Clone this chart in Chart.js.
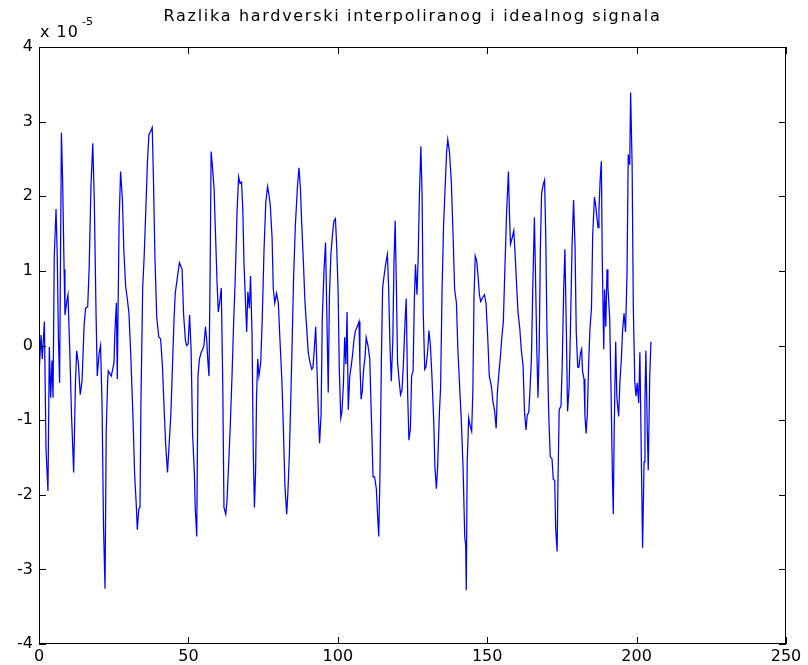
<!DOCTYPE html>
<html>
<head>
<meta charset="utf-8">
<title>Razlika hardverski interpoliranog i idealnog signala</title>
<script src="https://cdn.jsdelivr.net/npm/chart.js@4.4.1/dist/chart.umd.min.js"></script>
<style>
  html, body { margin: 0; padding: 0; background: #fff; }
  canvas { display: block; }
</style>
</head>
<body>
<canvas id="signal-chart" width="808" height="665"></canvas>
<script>
// Naslov i oznake osi
const chartTitle = "Razlika hardverski interpoliranog i idealnog signala";
const yExponent = "-5";
const xTickValues = [0, 50, 100, 150, 200, 250];
const yTickValues = [-4, -3, -2, -1, 0, 1, 2, 3, 4];

// Uzorci ocitani sa slike (x os), vrijednosti u jedinicama 1e-5
const sampleX = [
  0.1, 0.67, 1.1, 1.8, 2.35, 3.0, 3.46, 3.9, 4.35, 4.7, 5.1, 5.7, 6.1, 6.5, 6.9, 7.5, 7.9, 8.4, 8.7, 9.3,
  9.7, 10.3, 10.9, 11.6, 12.2, 12.6, 13.2, 13.8, 14.4, 15.1, 15.6, 16.3, 16.8, 17.4, 18.0, 18.5, 19.1, 19.5,
  20.1, 20.6, 21.1, 21.6, 22.1, 22.5, 23.0,
  23.2, 24.2, 25.1, 25.4, 25.9, 26.2, 26.8, 27.3, 27.9, 28.4, 29.0, 29.6, 30.1, 30.7, 31.5, 32.0, 32.6, 32.9,
  33.4, 33.8, 34.1, 34.7, 35.2, 35.7, 36.3, 36.8, 37.4, 37.9, 38.3, 38.8, 39.4, 40.1, 40.7, 41.3, 41.8, 42.4,
  43.0, 43.5, 44.1, 44.6, 45.2, 45.6,
  46.5, 47.0, 47.9, 48.4, 49.0, 49.4, 49.9, 50.4, 50.9, 51.4, 52.0, 52.3, 52.8, 53.2, 53.7, 54.3, 54.8, 55.2,
  55.7, 56.1, 56.5, 56.9, 57.3, 57.6, 58.0, 58.6, 59.0, 59.6, 60.0, 60.5, 61.0, 61.5, 61.9, 62.5, 62.9, 63.5,
  64.0, 64.6, 65.1, 65.7, 66.3, 66.8,
  67.3, 67.8, 68.2, 68.6, 69.1, 69.5, 69.9, 70.4, 70.8, 71.3, 71.7, 72.1, 72.5, 72.8, 73.2, 73.6, 74.2, 74.7,
  75.3, 75.9, 76.5, 77.0, 77.4, 78.0, 78.4, 78.9, 79.5, 80.1, 80.6, 81.3, 81.8, 82.3, 82.9, 83.3, 83.8, 84.2,
  84.7, 85.2, 85.8, 86.5, 87.0, 87.5, 87.9, 88.5, 89.0, 89.6, 90.1, 90.7,
  91.3, 91.7, 92.1, 92.6, 93.0, 93.5, 93.9, 94.4, 94.8, 95.4, 95.9, 96.8, 97.2, 97.7, 98.3, 98.7, 99.2, 99.6,
  100.1, 100.5, 101.0, 101.4, 101.9, 102.3, 102.7, 103.1, 103.5, 104.0, 104.5, 104.9, 105.4, 105.9, 106.5,
  107.1, 107.4, 107.8, 108.2, 108.6, 109.1, 109.5, 110.1, 110.7, 111.2, 111.8, 112.3, 112.9, 113.3, 113.7,
  114.1, 114.6, 115.0, 115.6, 116.1, 116.6, 117.0, 117.5, 117.9, 118.4, 118.8, 119.2, 119.6, 120.0, 120.6,
  121.0, 121.5, 121.9, 122.5, 122.9, 123.4, 123.8, 124.3, 124.7, 125.2, 125.6, 126.0, 126.5, 126.9, 127.3,
  127.8, 128.2, 128.6, 129.1, 129.5, 130.1, 130.5, 131.0, 131.5, 132.1, 132.5, 133.0, 133.4, 134.0, 134.4,
  134.9, 135.4, 136.0, 136.4, 136.8,
  137.4, 138.0, 138.6, 139.1, 139.7, 140.2, 140.8, 141.3, 141.9, 142.5, 142.8, 143.0, 143.3, 143.8, 144.2,
  144.8, 145.2, 145.6, 146.0, 146.5, 146.9, 147.4, 147.8, 148.3, 148.7, 149.1, 149.6, 150.2, 150.7, 151.4,
  151.9, 152.5, 153.0, 153.4, 153.9, 154.5, 154.9, 155.4, 155.9, 156.5, 157.1, 157.5, 157.8, 158.4, 158.9,
  159.4, 159.9, 160.3, 160.9, 161.4, 162.0, 162.5, 163.0, 163.4, 163.9, 164.3, 164.8, 165.3, 165.8, 166.1,
  166.6, 167.0, 167.4, 167.8, 168.2, 168.7, 169.2, 169.6, 170.0, 170.6, 171.1, 171.7, 172.1, 172.6, 172.9,
  173.4, 173.7, 174.1, 174.7, 175.1, 175.6, 176.0, 176.5, 176.9, 177.4, 177.8, 178.4, 178.9, 179.4, 179.8,
  180.3, 180.7, 181.2, 181.6, 181.9,
  182.4, 182.7, 183.1, 183.5, 184.0, 184.4, 184.9, 185.3, 185.9, 186.3, 186.6, 187.1, 187.4, 187.8, 188.2,
  188.5, 189.0, 189.3, 189.7, 190.1, 190.4, 191.0, 191.4, 191.9, 192.2, 192.5, 193.0, 193.4, 194.0, 194.4,
  194.9, 195.3, 195.8, 196.3, 196.8, 197.2, 197.7, 198.0, 198.5, 198.9, 199.4, 199.8, 200.2, 200.7, 201.1,
  201.6, 202.0, 202.5, 202.8, 203.1, 203.6, 203.9, 204.4, 204.8
];

const diffValues = [
  -0.32, 0.14, -0.18, 0.32, -1.40, -1.95, -0.02, -0.70, -0.20, -0.70, 1.18, 1.83, 1.22, 0.09, -0.50, 2.85, 2.22, 1.02, 0.41, 0.59,
  0.68, -0.07, -0.95, -1.70, -0.50, -0.07, -0.25, -0.66, -0.48, 0.27, 0.50, 0.52, 1.06, 2.15, 2.71, 1.95, 0.41, -0.41,
  -0.11, 0.00, -0.79, -2.44, -3.26, -1.15, -0.45,
  -0.34, -0.41, -0.23, 0.18, 0.57, -0.45, 1.63, 2.33, 1.97, 1.27, 0.79, 0.61, 0.43, -0.11, -1.02, -1.72, -2.17, -2.47,
  -2.19, -2.17, -0.81, 0.77, 1.20, 1.76, 2.47, 2.83, 2.87, 2.92, 2.24, 1.18, 0.38, 0.11, 0.09, -0.27, -0.77, -1.33,
  -1.70, -1.36, -0.95, -0.36, 0.36, 0.70,
  0.97, 1.11, 1.02, 0.41, 0.07, 0.00, 0.02, 0.41, -0.05, -1.18, -1.72, -2.19, -2.56, -0.41, -0.18, -0.09, -0.05, 0.00,
  0.25, 0.09, -0.20, -0.41, 1.09, 2.60, 2.42, 2.10, 1.58, 0.84, 0.45, 0.59, 0.77, -0.52, -2.17, -2.26, -2.10, -1.56,
  -1.09, -0.41, 0.25, 0.93, 1.81, 2.26,
  2.17, 2.19, 1.83, 1.11, 0.59, 0.18, 0.72, 0.50, 0.93, 0.14, -1.40, -2.17, -1.67, -0.70, -0.18, -0.41, -0.23, 0.34,
  1.27, 1.92, 2.13, 2.01, 1.88, 1.45, 0.77, 0.57, 0.70, 0.57, 0.11, -0.48, -1.13, -1.88, -2.26, -1.97, -1.45, -0.81,
  0.00, 0.90, 1.61, 2.13, 2.38, 2.10, 1.65, 1.11, 0.59, 0.23, -0.09, -0.23,
  -0.32, -0.29, -0.07, 0.25, -0.27, -0.90, -1.31, -0.93, 0.36, 1.02, 1.38, -0.63, 0.66, 1.24, 1.52, 1.67, 1.70, 1.36,
  0.75, -0.32, -0.97, -0.88, -0.50, 0.11, -0.25, 0.45, -0.86, -0.41, -0.27, -0.14, 0.07, 0.20, 0.25,
  0.32, -0.23, -0.72, -0.61, -0.34, -0.16, 0.11, 0.00, -0.18, -0.90, -1.76, -1.76, -1.92, -2.26, -2.56,
  -1.76, -0.16, 0.77, 0.97, 1.11, 1.22, 0.79, -0.05, -0.48, 0.05, 1.11, 1.67, 0.81, -0.23, -0.50,
  -0.66, -0.59, -0.29, 0.32, 0.63, -0.68, -1.27, -1.11, -0.41, -0.34, 0.59, 1.09, 0.68, 1.18, 1.99,
  2.67, 2.04, 0.43, -0.32, -0.29, -0.07, 0.20, 0.00, -0.41, -1.00, -1.63, -1.92, -1.63, -0.90, -0.57,
  0.75, 1.61, 2.19, 2.58, 2.76,
  2.58, 2.19, 1.45, 0.75, 0.57, -0.07, -0.57, -0.97, -1.61, -2.58, -2.67, -3.28, -1.58, -0.97, -1.06,
  -1.15, -0.61, 0.68, 1.20, 1.13, 0.95, 0.68, 0.59, 0.63, 0.66, 0.68, 0.57, 0.09, -0.41, -0.54,
  -0.75, -0.88, -1.11, -0.63, -0.38, -0.11, 0.11, 0.32, 1.00, 1.79, 2.33, 1.70, 1.36, 1.45, 1.54,
  1.18, 0.77, 0.45, 0.23, -0.05, -0.27, -0.90, -1.13, -0.93, -0.90, -0.61, -0.18, 0.86, 1.72, 1.09,
  -0.05, -0.70, -0.05, 1.31, 2.04, 2.15, 2.22, 1.47, 0.20, -0.93, -1.49, -1.52, -1.79, -1.81, -2.44,
  -2.76, -1.79, -0.86, -0.81, -0.27, 0.75, 1.29, 0.18, -0.88, -0.57, 0.11, 1.33, 1.95, 1.33, 0.18,
  -0.29, -0.29, -0.11, -0.05, -0.34,
  -0.45, -0.93, -1.18, -0.93, -0.18, 0.23, 0.50, 1.47, 1.99, 1.88, 1.76, 1.58, 1.81, 2.22, 2.47,
  1.20, -0.05, 0.75, 0.25, 1.02, 0.79, 0.36, -0.50, -1.74, -2.26, -1.13, 0.05, -0.70, -0.95, -0.50,
  -0.18, 0.20, 0.43, 0.18, 0.97, 2.56, 2.42, 3.39, 2.42, 0.52, -0.50, -0.68, -0.50, -0.77, -0.09,
  -1.54, -2.71, -1.56, -0.75, -0.07, -1.18, -1.67, -0.41, 0.05
];

const FONT = "'DejaVu Sans', 'Liberation Sans', sans-serif";
const TICK_LEN = 7;

// Okvir osi, unutarnje crtice, naslov i eksponent (MATLAB stil)
const matlabAxes = {
  id: "matlabAxes",
  afterDatasetsDraw(chart) {
    const { ctx, chartArea: a, scales } = chart;
    const x = scales.x;
    const y = scales.y;
    ctx.save();
    ctx.strokeStyle = "#000";
    ctx.lineWidth = 1;
    ctx.strokeRect(a.left + 0.5, a.top + 0.5, a.right - a.left - 1, a.bottom - a.top - 1);

    ctx.beginPath();
    xTickValues.forEach((v) => {
      const px = Math.round(x.getPixelForValue(v)) + 0.5;
      ctx.moveTo(px, a.bottom);
      ctx.lineTo(px, a.bottom - TICK_LEN);
      ctx.moveTo(px, a.top);
      ctx.lineTo(px, a.top + TICK_LEN);
    });
    yTickValues.forEach((v) => {
      const py = Math.round(y.getPixelForValue(v)) + 0.5;
      ctx.moveTo(a.left, py);
      ctx.lineTo(a.left + TICK_LEN, py);
      ctx.moveTo(a.right, py);
      ctx.lineTo(a.right - TICK_LEN, py);
    });
    ctx.stroke();

    ctx.fillStyle = "#000";
    ctx.textBaseline = "alphabetic";
    // naslov
    ctx.font = "16px " + FONT;
    ctx.textAlign = "center";
    if ("letterSpacing" in ctx) ctx.letterSpacing = "1.7px";
    ctx.fillText(chartTitle, (a.left + a.right) / 2, 21);
    // x 10^-5
    ctx.textAlign = "left";
    if ("letterSpacing" in ctx) ctx.letterSpacing = "1px";
    ctx.fillText("x 10", a.left + 1, 37);
    ctx.font = "11px " + FONT;
    if ("letterSpacing" in ctx) ctx.letterSpacing = "0px";
    ctx.fillText(yExponent, a.left + 43, 25);
    ctx.restore();
  },
};

const points = sampleX.map((xv, i) => ({ x: xv, y: diffValues[i] }));

const ctx = document.getElementById("signal-chart").getContext("2d");
const signalChart = new Chart(ctx, {
  type: "line",
  data: {
    datasets: [
      {
        data: points,
        borderColor: "#0000ff",
        borderWidth: 1.25,
        pointRadius: 0,
        tension: 0,
        fill: false,
      },
    ],
  },
  options: {
    responsive: false,
    animation: false,
    layout: { padding: { left: 0, right: 22, top: 47, bottom: 0 } },
    plugins: {
      legend: { display: false },
      tooltip: { enabled: false },
      title: { display: false },
    },
    scales: {
      x: {
        type: "linear",
        min: 0,
        max: 250,
        afterBuildTicks: (s) => { s.ticks = xTickValues.map((v) => ({ value: v })); },
        afterFit: (s) => { s.height = 21; },
        ticks: { color: "#000", font: { family: FONT, size: 16 }, padding: 3, maxRotation: 0, autoSkip: false },
        grid: { display: false, drawTicks: false },
        border: { display: false },
      },
      y: {
        type: "linear",
        min: -4,
        max: 4,
        afterBuildTicks: (s) => { s.ticks = yTickValues.map((v) => ({ value: v })); },
        afterFit: (s) => { s.width = 39; },
        ticks: { color: "#000", font: { family: FONT, size: 16 }, padding: 6, autoSkip: false },
        grid: { display: false, drawTicks: false },
        border: { display: false },
      },
    },
  },
  plugins: [matlabAxes],
});
</script>
</body>
</html>
